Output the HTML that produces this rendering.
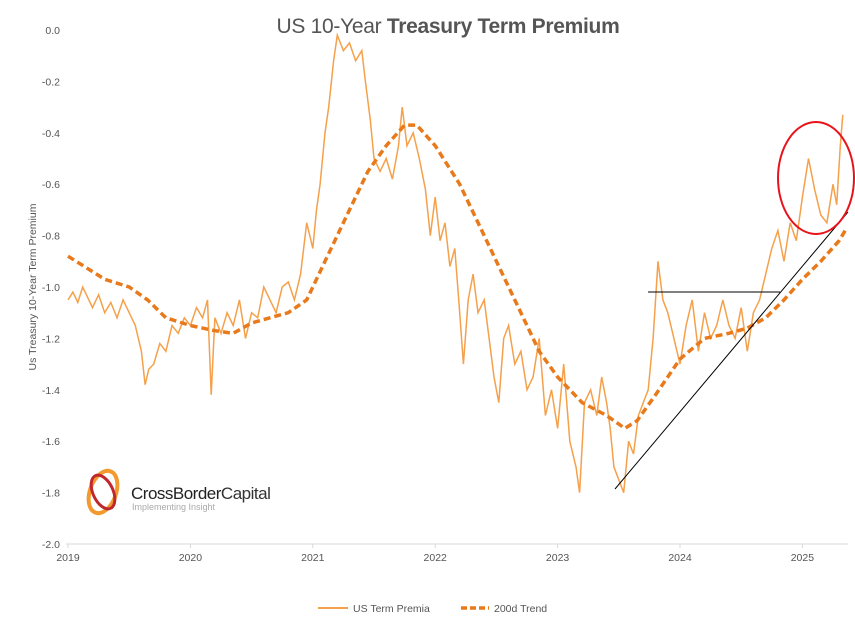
<!DOCTYPE html>
<html><head><meta charset="utf-8"><style>
body{margin:0;background:#fff;font-family:"Liberation Sans",sans-serif}
svg text{font-family:"Liberation Sans",sans-serif}
</style></head><body>
<svg width="855" height="629" id="c">
<text x="448" y="33" text-anchor="middle" font-size="21" fill="#555" letter-spacing="-0.3">US 10-Year <tspan font-weight="bold">Treasury Term Premium</tspan></text>
<text transform="translate(36,287) rotate(-90)" text-anchor="middle" font-size="10.5" fill="#555">Us Treasury 10-Year Term Premium</text>
<g id="yt"></g><g id="xt"></g>
<line x1="66" y1="544" x2="848" y2="544" stroke="#d9d9d9"/>
<g>
<ellipse cx="103" cy="492" rx="13" ry="22" fill="none" stroke="#f29a2e" stroke-width="4" transform="rotate(20 103 492)"/>
<ellipse cx="103" cy="492" rx="10" ry="18" fill="none" stroke="#c0282d" stroke-width="3" transform="rotate(-25 103 492)"/>
<text x="131" y="499" font-size="17" fill="#222" letter-spacing="-0.5">CrossBorder<tspan fill="#333" font-weight="normal">Capital</tspan></text>
<text x="132" y="510" font-size="9" fill="#aaa">Implementing Insight</text>
</g>
<path id="prem" fill="none" stroke="#f5a04a" stroke-width="1.5"/>
<path id="trend" fill="none" stroke="#e87a1c" stroke-width="3.5" stroke-dasharray="7,4"/>
<line x1="615" y1="489" x2="848" y2="212" stroke="#000" stroke-width="1"/>
<line x1="648" y1="292" x2="780" y2="292" stroke="#000" stroke-width="1"/>
<ellipse cx="816" cy="178" rx="38" ry="56" fill="none" stroke="#e8141c" stroke-width="2"/>
<g>
<line x1="318" y1="608" x2="348" y2="608" stroke="#f5a04a" stroke-width="2"/>
<text x="353" y="612" font-size="10.5" fill="#555">US Term Premia</text>
<line x1="461" y1="608" x2="489" y2="608" stroke="#e87a1c" stroke-width="3.5" stroke-dasharray="6,3"/>
<text x="494" y="612" font-size="10.5" fill="#555">200d Trend</text>
</g>
</svg>
<script>
const yTicks=[0,-0.2,-0.4,-0.6,-0.8,-1.0,-1.2,-1.4,-1.6,-1.8,-2.0];
const xYears=[2019,2020,2021,2022,2023,2024,2025];
const premDates=[2019.0,2019.04,2019.08,2019.12,2019.16,2019.2,2019.25,2019.3,2019.35,2019.4,2019.45,2019.5,2019.55,2019.6,2019.63,2019.66,2019.7,2019.75,2019.8,2019.85,2019.9,2019.95,2020.0,2020.05,2020.1,2020.14,2020.17,2020.2,2020.25,2020.3,2020.35,2020.4,2020.45,2020.5,2020.55,2020.6,2020.65,2020.7,2020.75,2020.8,2020.85,2020.9,2020.95,2021.0,2021.03,2021.06,2021.1,2021.13,2021.17,2021.2,2021.25,2021.3,2021.35,2021.4,2021.43,2021.47,2021.5,2021.55,2021.6,2021.65,2021.7,2021.73,2021.77,2021.82,2021.87,2021.92,2021.96,2022.0,2022.04,2022.08,2022.12,2022.16,2022.2,2022.23,2022.27,2022.31,2022.35,2022.4,2022.44,2022.48,2022.52,2022.56,2022.6,2022.65,2022.7,2022.75,2022.8,2022.85,2022.9,2022.95,2023.0,2023.05,2023.1,2023.15,2023.18,2023.22,2023.27,2023.32,2023.36,2023.4,2023.43,2023.46,2023.5,2023.54,2023.58,2023.62,2023.66,2023.7,2023.74,2023.78,2023.82,2023.86,2023.9,2023.95,2024.0,2024.05,2024.1,2024.15,2024.2,2024.25,2024.3,2024.35,2024.4,2024.45,2024.5,2024.55,2024.6,2024.65,2024.7,2024.75,2024.8,2024.85,2024.9,2024.95,2025.0,2025.05,2025.1,2025.15,2025.2,2025.25,2025.28,2025.31,2025.33];
const premVals=[-1.05,-1.02,-1.06,-1.0,-1.04,-1.08,-1.03,-1.1,-1.06,-1.12,-1.05,-1.1,-1.15,-1.25,-1.38,-1.32,-1.3,-1.22,-1.25,-1.15,-1.18,-1.12,-1.15,-1.08,-1.12,-1.05,-1.42,-1.12,-1.18,-1.1,-1.15,-1.05,-1.2,-1.1,-1.12,-1.0,-1.05,-1.1,-1.0,-0.98,-1.05,-0.95,-0.75,-0.85,-0.7,-0.6,-0.4,-0.3,-0.12,-0.02,-0.08,-0.05,-0.12,-0.08,-0.2,-0.35,-0.5,-0.55,-0.5,-0.58,-0.45,-0.3,-0.45,-0.4,-0.5,-0.62,-0.8,-0.65,-0.82,-0.75,-0.92,-0.85,-1.1,-1.3,-1.05,-0.95,-1.1,-1.05,-1.2,-1.35,-1.45,-1.2,-1.15,-1.3,-1.25,-1.4,-1.35,-1.2,-1.5,-1.4,-1.55,-1.3,-1.6,-1.7,-1.8,-1.45,-1.4,-1.5,-1.35,-1.45,-1.55,-1.7,-1.75,-1.8,-1.6,-1.65,-1.5,-1.45,-1.4,-1.2,-0.9,-1.05,-1.1,-1.2,-1.3,-1.15,-1.05,-1.25,-1.1,-1.2,-1.15,-1.05,-1.15,-1.2,-1.08,-1.25,-1.1,-1.05,-0.95,-0.85,-0.78,-0.9,-0.75,-0.82,-0.65,-0.5,-0.62,-0.72,-0.75,-0.6,-0.68,-0.45,-0.33];
const trendDates=[2019.0,2019.3,2019.5,2019.65,2019.8,2020.0,2020.2,2020.35,2020.5,2020.65,2020.8,2020.95,2021.1,2021.3,2021.45,2021.6,2021.75,2021.85,2022.0,2022.2,2022.4,2022.55,2022.7,2022.85,2023.0,2023.2,2023.4,2023.55,2023.65,2023.8,2024.0,2024.2,2024.4,2024.55,2024.7,2024.85,2025.0,2025.15,2025.3,2025.35];
const trendVals=[-0.88,-0.97,-1.0,-1.05,-1.12,-1.15,-1.17,-1.18,-1.14,-1.12,-1.1,-1.05,-0.9,-0.7,-0.55,-0.45,-0.37,-0.37,-0.45,-0.6,-0.8,-0.95,-1.1,-1.25,-1.35,-1.45,-1.5,-1.55,-1.52,-1.42,-1.28,-1.2,-1.18,-1.16,-1.12,-1.05,-0.97,-0.9,-0.82,-0.78];
const X=t=>68+(t-2019)*122.4, Y=v=>30-v*257;
const ns="http://www.w3.org/2000/svg";
const yt=document.getElementById('yt');
yTicks.forEach(v=>{const t=document.createElementNS(ns,'text');


t.setAttribute('x',60);t.setAttribute('y',Y(v)+4);t.setAttribute('text-anchor','end');t.setAttribute('font-size','10.5');t.setAttribute('fill','#555');t.textContent=v.toFixed(1);yt.appendChild(t);});
const xt=document.getElementById('xt');
xYears.forEach(y=>{const t=document.createElementNS(ns,'text');


t.setAttribute('x',X(y));t.setAttribute('y',561);t.setAttribute('text-anchor','middle');t.setAttribute('font-size','10.5');t.setAttribute('fill','#555');t.textContent=y;xt.appendChild(t);
const l=document.createElementNS(ns,'line');


l.setAttribute('x1',X(y));l.setAttribute('x2',X(y));l.setAttribute('y1',544);l.setAttribute('y2',548);l.setAttribute('stroke','#d9d9d9');xt.appendChild(l);});
const pd=(d,v)=>d.map((t,i)=>(i?'L':'M')+X(t).toFixed(1)+','+Y(v[i]).toFixed(1)).join('');
document.getElementById('prem').setAttribute('d',pd(premDates,premVals));
document.getElementById('trend').setAttribute('d',pd(trendDates,trendVals));
</script>
</body></html>
